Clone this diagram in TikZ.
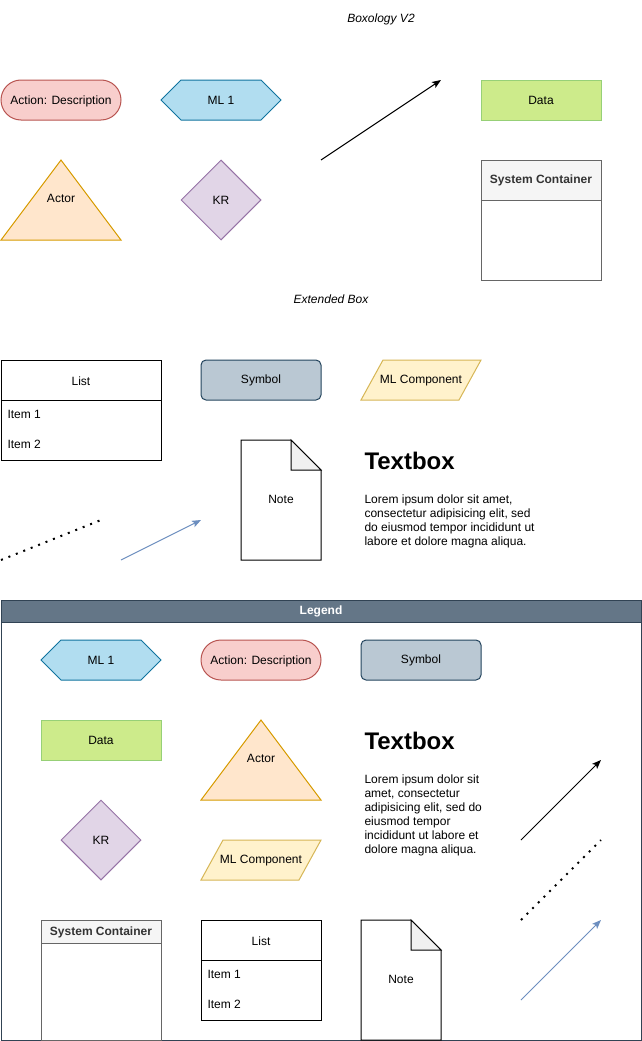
\documentclass[tikz,border=0pt]{standalone}
\usepackage{fontspec}
\setmainfont{Liberation Sans}
\usetikzlibrary{shapes.misc,shapes.geometric,shapes.symbols,arrows.meta}
\definecolor{actF}{HTML}{F8CECC}\definecolor{actS}{HTML}{B85450}
\definecolor{mlF}{HTML}{B1DDF0}\definecolor{mlS}{HTML}{10739E}
\definecolor{dataF}{HTML}{CDEB8B}\definecolor{dataS}{HTML}{97D077}
\definecolor{actorF}{HTML}{FFE6CC}\definecolor{actorS}{HTML}{D79B00}
\definecolor{krF}{HTML}{E1D5E7}\definecolor{krS}{HTML}{9673A6}
\definecolor{symF}{HTML}{BAC8D3}\definecolor{symS}{HTML}{23445D}
\definecolor{mlcF}{HTML}{FFF2CC}\definecolor{mlcS}{HTML}{D6B656}
\definecolor{scF}{HTML}{F5F5F5}\definecolor{scS}{HTML}{666666}\definecolor{scT}{HTML}{333333}
\definecolor{legF}{HTML}{647687}\definecolor{legS}{HTML}{314354}
\definecolor{blueA}{HTML}{6C8EBF}\definecolor{foldF}{HTML}{F0F0F0}
\tikzset{
  every path/.style={line width=1pt},
  lbl/.style={font=\fontsize{12}{14}\selectfont, text=black, inner sep=0pt, yshift=-0.8pt},
  actbox/.style={rounded rectangle, draw=actS, fill=actF, minimum width=120pt, minimum height=40pt, inner sep=0pt, lbl, yshift=0.8pt, text depth=0pt, execute at begin node={\raisebox{-0.8pt}{}}},
  mlbox/.style={signal, signal to=west and east, signal pointer angle=90, draw=mlS, fill=mlF, minimum width=120pt, minimum height=40pt, inner sep=0pt, lbl, yshift=0.8pt},
  databox/.style={rectangle, draw=dataS, fill=dataF, minimum width=120pt, minimum height=40pt, inner sep=0pt, lbl, yshift=0.8pt},
  krbox/.style={diamond, draw=krS, fill=krF, minimum width=80pt, minimum height=80pt, inner sep=0pt, lbl, yshift=0.8pt},
  symbox/.style={rectangle, rounded corners=5pt, draw=symS, fill=symF, minimum width=120pt, minimum height=40pt, inner sep=0pt, lbl, yshift=0.8pt},
  actorshape/.style={draw=actorS, fill=actorF},
  mlcshape/.style={draw=mlcS, fill=mlcF},
  scshape/.style={draw=scS},
  sctext/.style={font=\bfseries\fontsize{12}{14}\selectfont, text=scT, inner sep=0pt, yshift=-0.8pt},
  listshape/.style={draw=black},
  itemtext/.style={lbl, anchor=west},
  titletext/.style={font=\itshape\fontsize{12}{14}\selectfont, inner sep=0pt},
  tbhead/.style={font=\bfseries\fontsize{24}{28}\selectfont, anchor=west, inner sep=0pt},
  tbbody/.style={font=\fontsize{12}{14}\selectfont, anchor=north west, align=left, inner sep=0pt},
  arr/.style={draw=black, -{Stealth[length=9pt,width=7pt,inset=2pt]}},
  blarr/.style={draw=blueA, -{Stealth[length=9pt,width=7pt,inset=2pt]}},
  dotline/.style={draw=black, line width=2pt, dash pattern=on 2pt off 6pt},
}
\begin{document}
\begin{tikzpicture}[x=1pt,y=-1pt]
\useasboundingbox (0,0) rectangle (642,1041);

% ---------- top section ----------
\node[titletext] (t1) at (381,19) {Boxology V2};
\node[actbox] (act1) at (61,100) {Action: Description};
\node[mlbox] (ml1) at (221,100) {ML 1};
\coordinate (a1s) at (321,160); \coordinate (a1e) at (441,80);
\draw[arr] (a1s) -- (a1e);
\node[databox] (data1) at (541,100) {Data};
\draw[actorshape] (61,160) -- (121,240) -- (1,240) -- cycle;
\node[lbl] (actor1) at (61,198) {Actor};
\node[krbox] (kr1) at (221,200) {KR};
\draw[scshape, fill=white] (481,160) rectangle (601,280);
\draw[scshape, fill=scF] (481,160) rectangle (601,200);
\node[sctext] (sc1) at (541,180) {System Container};

\node[titletext] (t2) at (331,299) {Extended Box};

% ---------- second section ----------
\draw[listshape] (1,360) rectangle (161,460);
\draw[listshape] (1,400) -- (161,400);
\node[lbl] (list1) at (81,380) {List};
\node[itemtext] (l1i1) at (7,414) {Item 1};
\node[itemtext] (l1i2) at (7,444) {Item 2};
\node[symbox] (sym1) at (261,380) {Symbol};
\draw[mlcshape] (383,360) -- (481,360) -- (459,400) -- (361,400) -- cycle;
\node[lbl] (mlc1) at (421,380) {ML Component};
\draw[fill=white] (241,440) -- (291,440) -- (321,470) -- (321,560) -- (241,560) -- cycle;
\draw[fill=foldF] (291,440) -- (321,470) -- (291,470) -- cycle;
\node[lbl] (note1) at (281,499) {Note};
\node[tbhead] (tb1) at (364,461) {Textbox};
\node[tbbody] (tbb1) at (364,494) {Lorem ipsum dolor sit amet,\\consectetur adipisicing elit, sed\\do eiusmod tempor incididunt ut\\labore et dolore magna aliqua.};
\coordinate (d1s) at (1,560); \coordinate (d1e) at (101,520);
\draw[dotline] (d1s) -- (d1e);
\coordinate (b1s) at (121,560); \coordinate (b1e) at (201,520);
\draw[blarr] (b1s) -- (b1e);

% ---------- legend ----------
\draw[draw=legS, fill=white] (1,600) rectangle (641,1040);
\draw[draw=legS, fill=legF] (1,600) rectangle (641,622);
\node[font=\bfseries\fontsize{12}{14}\selectfont, text=white, inner sep=0pt] (leg) at (321,611.5) {Legend};

\node[mlbox] (ml2) at (101,660) {ML 1};
\node[actbox] (act2) at (261,660) {Action: Description};
\node[symbox] (sym2) at (421,660) {Symbol};
\node[databox] (data2) at (101,740) {Data};
\draw[actorshape] (261,720) -- (321,800) -- (201,800) -- cycle;
\node[lbl] (actor2) at (261,758) {Actor};
\node[krbox] (kr2) at (101,840) {KR};
\draw[mlcshape] (223,840) -- (321,840) -- (299,880) -- (201,880) -- cycle;
\node[lbl] (mlc2) at (261,860) {ML Component};
\node[tbhead] (tb2) at (364,741) {Textbox};
\node[tbbody] (tbb2) at (364,774.5) {Lorem ipsum dolor sit\\amet, consectetur\\adipisicing elit, sed do\\eiusmod tempor\\incididunt ut labore et\\dolore magna aliqua.};
\coordinate (a2s) at (521,840); \coordinate (a2e) at (601,760);
\draw[arr] (a2s) -- (a2e);
\coordinate (d2s) at (521,920); \coordinate (d2e) at (601,840);
\draw[dotline] (d2s) -- (d2e);
\coordinate (b2s) at (521,1000); \coordinate (b2e) at (601,920);
\draw[blarr] (b2s) -- (b2e);

\draw[scshape, fill=white] (41,920) rectangle (161,1040);
\draw[scshape, fill=scF] (41,920) rectangle (161,943);
\node[sctext] (sc2) at (101,931.5) {System Container};

\draw[listshape] (201,920) rectangle (321,1020);
\draw[listshape] (201,960) -- (321,960);
\node[lbl] (list2) at (261,940) {List};
\node[itemtext] (l2i1) at (207,974) {Item 1};
\node[itemtext] (l2i2) at (207,1004) {Item 2};

\draw[fill=white] (361,920) -- (411,920) -- (441,950) -- (441,1040) -- (361,1040) -- cycle;
\draw[fill=foldF] (411,920) -- (441,950) -- (411,950) -- cycle;
\node[lbl] (note2) at (401,979) {Note};
\end{tikzpicture}
\end{document}
